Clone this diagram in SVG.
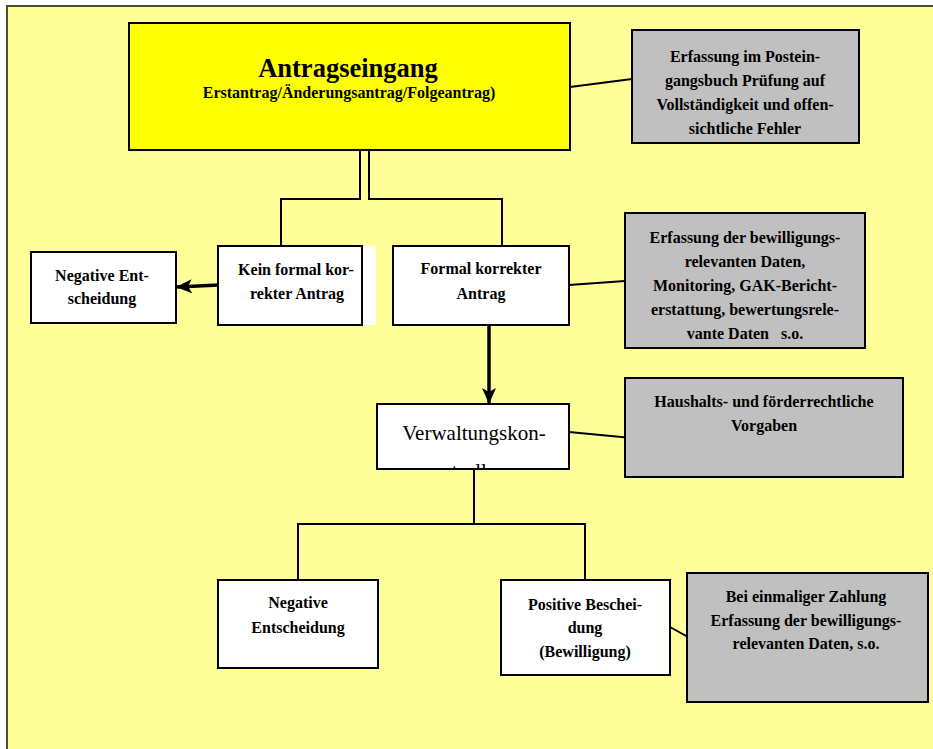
<svg xmlns="http://www.w3.org/2000/svg" width="933" height="749" viewBox="0 0 933 749">
  <style>
    .box { fill: #FFFFFF; stroke: #000000; stroke-width: 2; }
    .note { fill: #C0C0C0; stroke: #000000; stroke-width: 2; }
    .main { fill: #FFFF00; stroke: #000000; stroke-width: 2; }
    .line { fill: none; stroke: #000000; stroke-width: 2; }
    .thick { fill: none; stroke: #000000; stroke-width: 3.5; }
    text { font-family: "Liberation Serif", "Times New Roman", serif; fill: #000000; text-anchor: middle; }
    .b { font-weight: bold; font-size: 16px; }
  </style>
  <defs>
    <marker id="head" viewBox="0 0 16 14" refX="15" refY="7" markerWidth="16" markerHeight="14" markerUnits="userSpaceOnUse" orient="auto">
      <path d="M0,0 L16,7 L0,14 L4,7 z" fill="#000000"/>
    </marker>
    <clipPath id="vkClip">
      <rect x="378" y="405" width="190" height="63"/>
    </clipPath>
  </defs>

  <!-- background panel -->
  <rect x="7" y="6" width="940" height="760" fill="#FFFF99" stroke="#4d4d33" stroke-width="2"/>

  <!-- connectors -->
  <g id="connectors">
    <!-- double tree lines from Antragseingang -->
    <polyline class="line" points="360,150 360,199 281,199 281,246"/>
    <polyline class="line" points="369,150 369,199 502,199 502,246"/>
    <!-- note links -->
    <line class="line" x1="570" y1="87" x2="632" y2="79"/>
    <line class="line" x1="569" y1="285" x2="625" y2="281"/>
    <line class="line" x1="569" y1="432" x2="632" y2="438"/>
    <line class="line" x1="670" y1="627" x2="688" y2="637"/>
    <!-- arrows -->
    <line class="thick" x1="219" y1="285" x2="177" y2="287" marker-end="url(#head)"/>
    <line class="thick" x1="489" y1="325" x2="489" y2="403" marker-end="url(#head)"/>
    <!-- decision tree -->
    <polyline class="line" points="474,469 474,524"/>
    <polyline class="line" points="298,580 298,524 585,524 585,580"/>
  </g>

  <g id="antragseingang">
    <rect class="main" x="129" y="23" width="441" height="127"/>
    <text x="348" y="77" font-size="26.5" font-weight="bold">Antragseingang</text>
    <text x="349" y="98" class="b">Erstantrag/Änderungsantrag/Folgeantrag)</text>
  </g>

  <g id="note-posteingang">
    <rect class="note" x="632" y="30" width="227" height="113"/>
    <text class="b" x="745" y="62">Erfassung im Postein-</text>
    <text class="b" x="745" y="86">gangsbuch Prüfung auf</text>
    <text class="b" x="745" y="110">Vollständigkeit und offen-</text>
    <text class="b" x="745" y="134">sichtliche Fehler</text>
  </g>

  <g id="kein-formal">
    <rect x="218" y="246" width="158" height="79" fill="#FFFFFF"/>
    <rect class="box" x="218" y="246" width="144" height="79"/>
    <text class="b" x="296" y="275">Kein formal kor-</text>
    <text class="b" x="297" y="299">rekter Antrag</text>
  </g>

  <g id="negative-1">
    <rect class="box" x="31" y="252" width="145" height="71"/>
    <text class="b" x="102" y="281">Negative Ent-</text>
    <text class="b" x="102" y="304">scheidung</text>
  </g>

  <g id="formal-korrekt">
    <rect class="box" x="393" y="246" width="176" height="79"/>
    <text class="b" x="481" y="274">Formal korrekter</text>
    <text class="b" x="481" y="299">Antrag</text>
  </g>

  <g id="note-daten">
    <rect class="note" x="625" y="213" width="240" height="135"/>
    <text class="b" x="745" y="243">Erfassung der bewilligungs-</text>
    <text class="b" x="745" y="267">relevanten Daten,</text>
    <text class="b" x="745" y="291">Monitoring, GAK-Bericht-</text>
    <text class="b" x="745" y="315">erstattung, bewertungsrele-</text>
    <text class="b" x="745" y="339" xml:space="preserve">vante Daten   s.o.</text>
  </g>

  <g id="verwaltungskontrolle">
    <rect class="box" x="377" y="404" width="192" height="65"/>
    <g clip-path="url(#vkClip)">
      <text x="474" y="440" font-size="21">Verwaltungskon-</text>
      <text x="474" y="478" font-size="21">trolle</text>
    </g>
  </g>

  <g id="note-haushalt">
    <rect class="note" x="625" y="378" width="278" height="99"/>
    <text class="b" x="764" y="407">Haushalts- und förderrechtliche</text>
    <text class="b" x="764" y="431">Vorgaben</text>
  </g>

  <g id="negative-2">
    <rect class="box" x="218" y="580" width="160" height="88"/>
    <text class="b" x="298" y="608">Negative</text>
    <text class="b" x="298" y="633">Entscheidung</text>
  </g>

  <g id="positive">
    <rect class="box" x="501" y="580" width="169" height="95"/>
    <text class="b" x="585" y="610">Positive Beschei-</text>
    <text class="b" x="585" y="633">dung</text>
    <text class="b" x="585" y="657">(Bewilligung)</text>
  </g>

  <g id="note-zahlung">
    <rect class="note" x="687" y="573" width="241" height="129"/>
    <text class="b" x="806" y="602">Bei einmaliger Zahlung</text>
    <text class="b" x="806" y="626">Erfassung der bewilligungs-</text>
    <text class="b" x="806" y="649">relevanten Daten, s.o.</text>
  </g>
</svg>
